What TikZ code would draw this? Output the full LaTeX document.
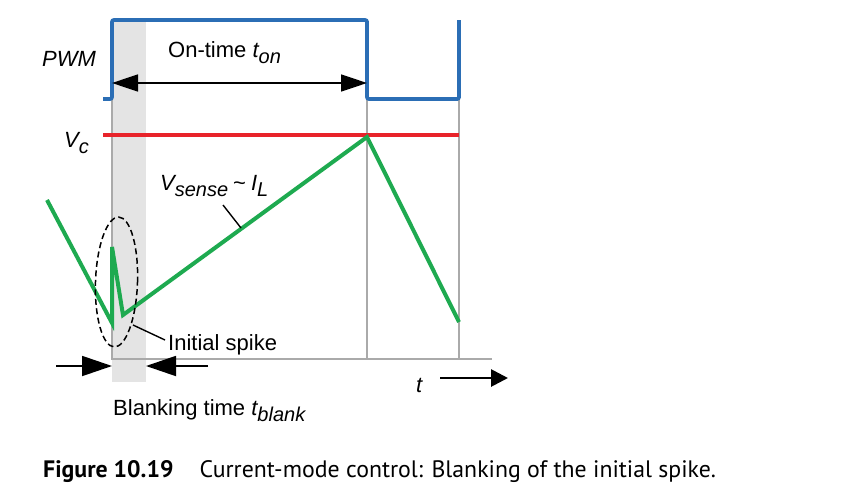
\documentclass[tikz,border=0pt]{standalone}
\usepackage{fontspec}
\setmainfont{Liberation Sans}
\newfontfamily\capfont{PT Sans}
\usetikzlibrary{arrows.meta,shapes.geometric}
\definecolor{pwmblue}{HTML}{2B6EB5}
\definecolor{vcred}{HTML}{E8232A}
\definecolor{sgreen}{HTML}{1EAA50}
\definecolor{bandgray}{HTML}{E4E4E4}
\definecolor{gridgray}{HTML}{AAAAAA}
\newcommand{\sbs}[1]{\raisebox{-0.3em}{\fontsize{20}{20}\selectfont #1}}
\begin{document}
\begin{tikzpicture}[x=1pt,y=-1pt,
  lbl/.style={anchor=base west,inner sep=0pt,font=\fontsize{22}{26}\selectfont},
  grid/.style={draw=gridgray,line width=1.3pt},
  dimarrow/.style={line width=1.6pt,{Triangle[length=26pt,width=17pt]}-{Triangle[length=26pt,width=17pt]}},
  pointer/.style={line width=1.4pt}]
\useasboundingbox (0,0) rectangle (843,490);
% blanking band
\fill[bandgray] (112,22) rectangle (146,382);
% grid lines
\draw[grid] (112,99) -- (112,359) -- (492,359);
\draw[grid] (367,99) -- (367,359);
\draw[grid] (459,99) -- (459,359);
% PWM
\draw[pwmblue,line width=3.8pt,rounded corners=2pt] (103,99) -- (112,99) -- (112,20) -- (367,20) -- (367,99) -- (459,99) -- (459,20);
% Vc
\draw[vcred,line width=3.8pt] (103,135) -- (459,135);
% green sense
\coordinate (g0) at (47,200);
\coordinate (g1) at (112,323);
\coordinate (g2) at (112,247);
\coordinate (g3) at (123,315);
\coordinate (g4) at (367,137);
\coordinate (g5) at (459,322);
\draw[sgreen,line width=4pt,line join=miter] (g0) -- (g1) -- (g2) -- (g3) -- (g4) -- (g5);
% spike ellipse
\node[draw,dash pattern=on 6pt off 3.5pt,line width=1.5pt,ellipse,minimum width=42pt,minimum height=130pt,inner sep=0pt,rotate=-2] (spk) at (116.5,282) {};
% on-time arrow
\coordinate (on1) at (112,83);
\coordinate (on2) at (367,83);
\draw[dimarrow] (on1) -- (on2);
% blanking arrows
\coordinate (b0) at (56,366);
\coordinate (b1) at (112,366);
\coordinate (b2) at (146,366);
\coordinate (b3) at (208,366);
\draw[line width=1.8pt,-{Triangle[length=30pt,width=20pt]}] (b0) -- (b1);
\draw[line width=1.8pt,-{Triangle[length=30pt,width=20pt]}] (b3) -- (b2);
% t arrow
\coordinate (t0) at (440,378);
\coordinate (t1) at (508,378);
\draw[line width=2.8pt,-{Triangle[length=17pt,width=17pt]}] (t0) -- (t1);
% labels
\node[lbl] (pwm) at (42,66) {\itshape PWM};
\node[lbl] (vc) at (64,147) {\itshape V\sbs{c}};
\node[lbl] (ontime) at (168,57) {On-time \itshape t\sbs{on}};
\node[lbl] (vsense) at (160,190) {\itshape V\sbs{sense}\upshape\hspace{5pt}\textasciitilde\hspace{5pt}\itshape I\sbs{L}};
\node[lbl] (init) at (168,350) {Initial spike};
\node[lbl] (blank) at (113,415) {Blanking time \itshape t\sbs{blank}};
\node[lbl] (tl) at (416,392) {\itshape t};
% pointers
\coordinate (p1a) at (223,205);
\coordinate (p1b) at (241,228);
\draw[pointer] (p1a) -- (p1b);
\coordinate (p2a) at (133,325);
\coordinate (p2b) at (165,340);
\draw[pointer] (p2a) -- (p2b);
% caption
\node[anchor=base west,inner sep=0pt,font=\capfont\fontsize{23.8}{28}\selectfont] (cap) at (43,477) {\textbf{Figure 10.19}\hspace{26pt}Current-mode control: Blanking of the initial spike.};
\end{tikzpicture}
\end{document}
